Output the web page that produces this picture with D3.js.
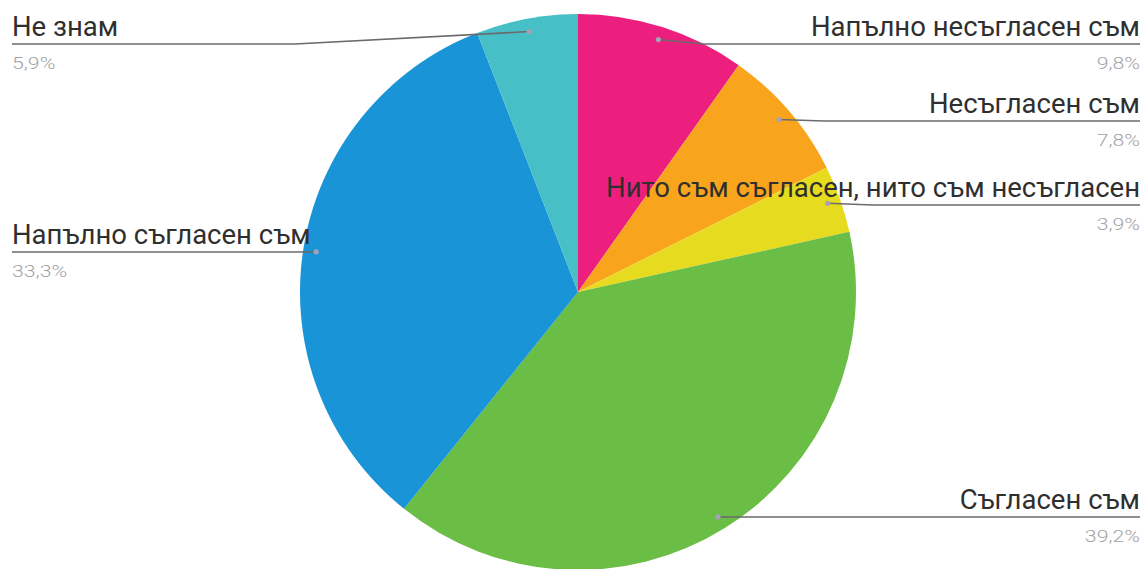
<!DOCTYPE html>
<html>
<head>
<meta charset="utf-8">
<script src="https://cdn.jsdelivr.net/npm/d3@7"></script>
<style>
  html, body { margin: 0; padding: 0; background: #fff; }
  svg { display: block; }
</style>
</head>
<body>
<svg id="chart" width="1145" height="569"></svg>
<script>
// Survey answers, clockwise from 12 o'clock
const categories = [
  "Напълно несъгласен съм",
  "Несъгласен съм",
  "Нито съм съгласен, нито съм несъгласен",
  "Съгласен съм",
  "Напълно съгласен съм",
  "Не знам"
];
const values = [9.8, 7.8, 3.9, 39.2, 33.3, 5.9];
const valueLabels = ["9,8%", "7,8%", "3,9%", "39,2%", "33,3%", "5,9%"];
const colors = ["#ec1f7f", "#f8a51d", "#e6db1f", "#6abd45", "#1994d6", "#47bfc6"];

// Label placement: side of the chart and y of the underline
const labelSide = ["right", "right", "right", "right", "left", "left"];
const labelLineY = [44, 121, 205, 517, 252, 44];

const W = 1145, H = 569;
const cx = 578, cy = 292, R = 278;
const leftX = 12, rightX = 1140;

const svg = d3.select("#chart");
const g = svg.append("g").attr("transform", `translate(${cx},${cy})`);

const data = categories.map((c, i) => ({ name: c, value: values[i], label: valueLabels[i], color: colors[i], side: labelSide[i], ly: labelLineY[i] }));

const pie = d3.pie().value(d => d.value).sort(null);
const arc = d3.arc().innerRadius(0).outerRadius(R);
const dotArc = d3.arc().innerRadius(R * 0.953).outerRadius(R * 0.953);

const arcs = pie(data);

g.selectAll("path.slice")
  .data(arcs)
  .join("path")
  .attr("class", "slice")
  .attr("d", arc)
  .attr("fill", d => d.data.color);

// Leader lines, anchor dots and the two-line labels
const labels = svg.append("g");
arcs.forEach(a => {
  const [dx, dy] = dotArc.centroid(a);
  const px = cx + dx, py = cy + dy;
  const d = a.data;
  let pts;
  if (d.side === "right") {
    const bend = Math.max(px + 45, cx + 120);
    pts = [[px, py], [bend, d.ly], [rightX, d.ly]];
  } else {
    const bend = Math.min(px - 2, 295);
    pts = [[px, py], [bend, d.ly], [leftX, d.ly]];
  }
  labels.append("path")
    .attr("d", d3.line()(pts))
    .attr("fill", "none")
    .attr("stroke", "#6b6b6b")
    .attr("stroke-width", 1.5);
  labels.append("circle")
    .attr("cx", px).attr("cy", py).attr("r", 2.6)
    .attr("fill", "#a8a0b8");

  const anchor = d.side === "right" ? "end" : "start";
  const tx = d.side === "right" ? rightX : leftX;
  labels.append("text")
    .attr("x", tx).attr("y", d.ly - 8)
    .attr("text-anchor", anchor)
    .attr("font-family", "Roboto, sans-serif")
    .attr("font-size", 27.5)
    .attr("fill", "#2f2f2f")
    .text(d.name);
  labels.append("g")
    .attr("transform", `translate(${tx},${d.ly + 25}) scale(1.25,1)`)
    .append("text")
    .attr("text-anchor", anchor)
    .attr("font-family", "Roboto, sans-serif")
    .attr("font-weight", 300)
    .attr("font-size", 17)
    .attr("fill", "#a3a3a3")
    .text(d.label);
});
</script>
</body>
</html>
